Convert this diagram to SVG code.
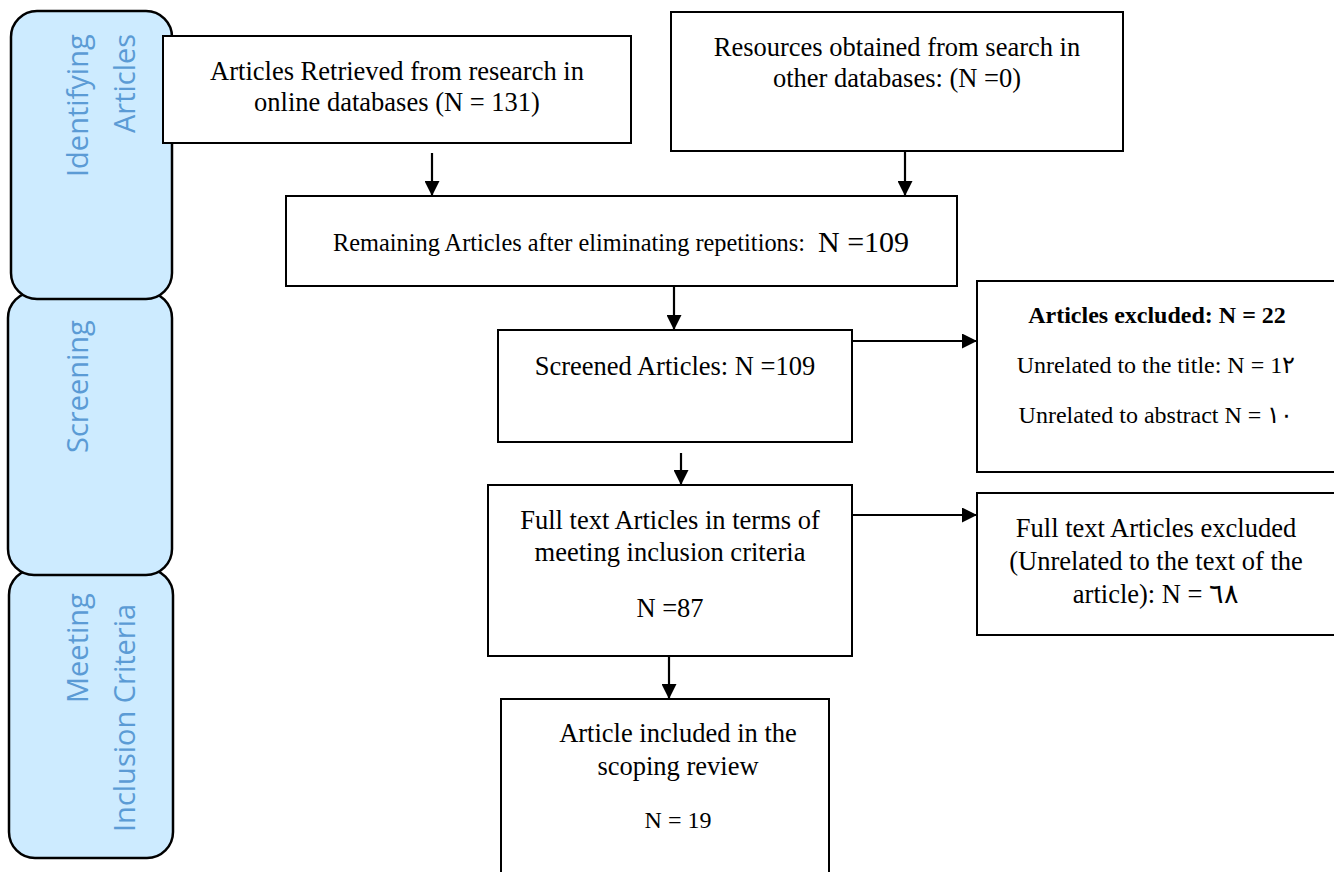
<svg xmlns="http://www.w3.org/2000/svg" width="1334" height="872" viewBox="0 0 1334 872">
<style>
.side{fill:#cdebff;stroke:#000;stroke-width:2.5}
.lbl{font-family:"Open Sans","Liberation Sans",sans-serif;font-size:29px;fill:#5b9bd5}
.box{fill:#fff;stroke:#000;stroke-width:2}
.t{font-family:"Liberation Serif","DejaVu Serif",serif;font-size:26.5px;fill:#000;text-anchor:middle}
.s{font-size:24px}
.b{font-weight:bold}
.c{stroke:#000;stroke-width:2.2;fill:none;marker-end:url(#ah)}
</style>
<defs>
<marker id="ah" viewBox="0 0 15 15" refX="15" refY="7.5" markerWidth="15" markerHeight="15" markerUnits="userSpaceOnUse" orient="auto">
<path d="M0,0 L15,7.5 L0,15 z" fill="#000"/>
</marker>
</defs>
<rect width="1334" height="872" fill="#fff"/>
<g id="stage-meeting">
<rect class="side" x="9" y="569" width="164" height="289" rx="26"/>
<text class="lbl" transform="translate(88,703) rotate(-90)">Meeting</text>
<text class="lbl" transform="translate(135,832) rotate(-90)">Inclusion Criteria</text>
</g>
<g id="stage-screening">
<rect class="side" x="8" y="292" width="164" height="283" rx="26"/>
<text class="lbl" transform="translate(88,453) rotate(-90)">Screening</text>
</g>
<g id="stage-identifying">
<rect class="side" x="11" y="11" width="161" height="288" rx="26"/>
<text class="lbl" transform="translate(88,177) rotate(-90)">Identifying</text>
<text class="lbl" transform="translate(135,133) rotate(-90)">Articles</text>
</g>
<g id="connectors">
<line class="c" x1="432" y1="153" x2="432" y2="196"/>
<line class="c" x1="905" y1="151" x2="905" y2="196"/>
<line class="c" x1="674" y1="286" x2="674" y2="330"/>
<line class="c" x1="841" y1="341" x2="977" y2="341"/>
<line class="c" x1="681" y1="453" x2="681" y2="485"/>
<line class="c" x1="847" y1="515" x2="977" y2="515"/>
<line class="c" x1="669" y1="651" x2="669" y2="699"/>
</g>
<g id="retrieved">
<rect class="box" x="163" y="36" width="468" height="107"/>
<text class="t" x="397" y="80">Articles Retrieved from research in</text>
<text class="t" x="397" y="111">online databases (N = 131)</text>
</g>
<g id="other-resources">
<rect class="box" x="671" y="12" width="452" height="139"/>
<text class="t" x="897" y="56">Resources obtained from search in</text>
<text class="t" x="897" y="87">other databases: (N =0)</text>
</g>
<g id="remaining">
<rect class="box" x="286" y="196" width="671" height="90"/>
<text class="t" x="333" y="251" style="text-anchor:start;font-size:25px"><tspan textLength="472" lengthAdjust="spacingAndGlyphs">Remaining Articles after eliminating repetitions:</tspan><tspan x="818" y="252" style="font-size:30px">N =109</tspan></text>
</g>
<g id="screened">
<rect class="box" x="498" y="330" width="354" height="112"/>
<text class="t" x="675" y="375">Screened Articles: N =109</text>
</g>
<g id="excluded">
<rect class="box" x="977" y="281" width="360" height="191"/>
<text class="t s b" x="1157" y="323">Articles excluded:  N = 22</text>
<text class="t s" x="1156" y="373">Unrelated to the title: N = 1٢</text>
<text class="t s" x="1156" y="423">Unrelated to abstract N = ١٠</text>
</g>
<g id="fulltext">
<rect class="box" x="488" y="485" width="364" height="171"/>
<text class="t" x="670" y="529">Full text Articles in terms of</text>
<text class="t" x="670" y="561">meeting inclusion criteria</text>
<text class="t" x="670" y="617">N =87</text>
</g>
<g id="fulltext-excluded">
<rect class="box" x="977" y="493" width="358" height="142"/>
<text class="t" x="1156" y="537">Full text Articles excluded</text>
<text class="t" x="1156" y="570">(Unrelated to the text of the</text>
<text class="t" x="1156" y="603">article): N = ٦٨</text>
</g>
<g id="included">
<rect class="box" x="501" y="699" width="328" height="180"/>
<text class="t" x="678" y="742">Article included in the</text>
<text class="t" x="678" y="775">scoping review</text>
<text class="t s" x="678" y="828">N = 19</text>
</g>
</svg>
